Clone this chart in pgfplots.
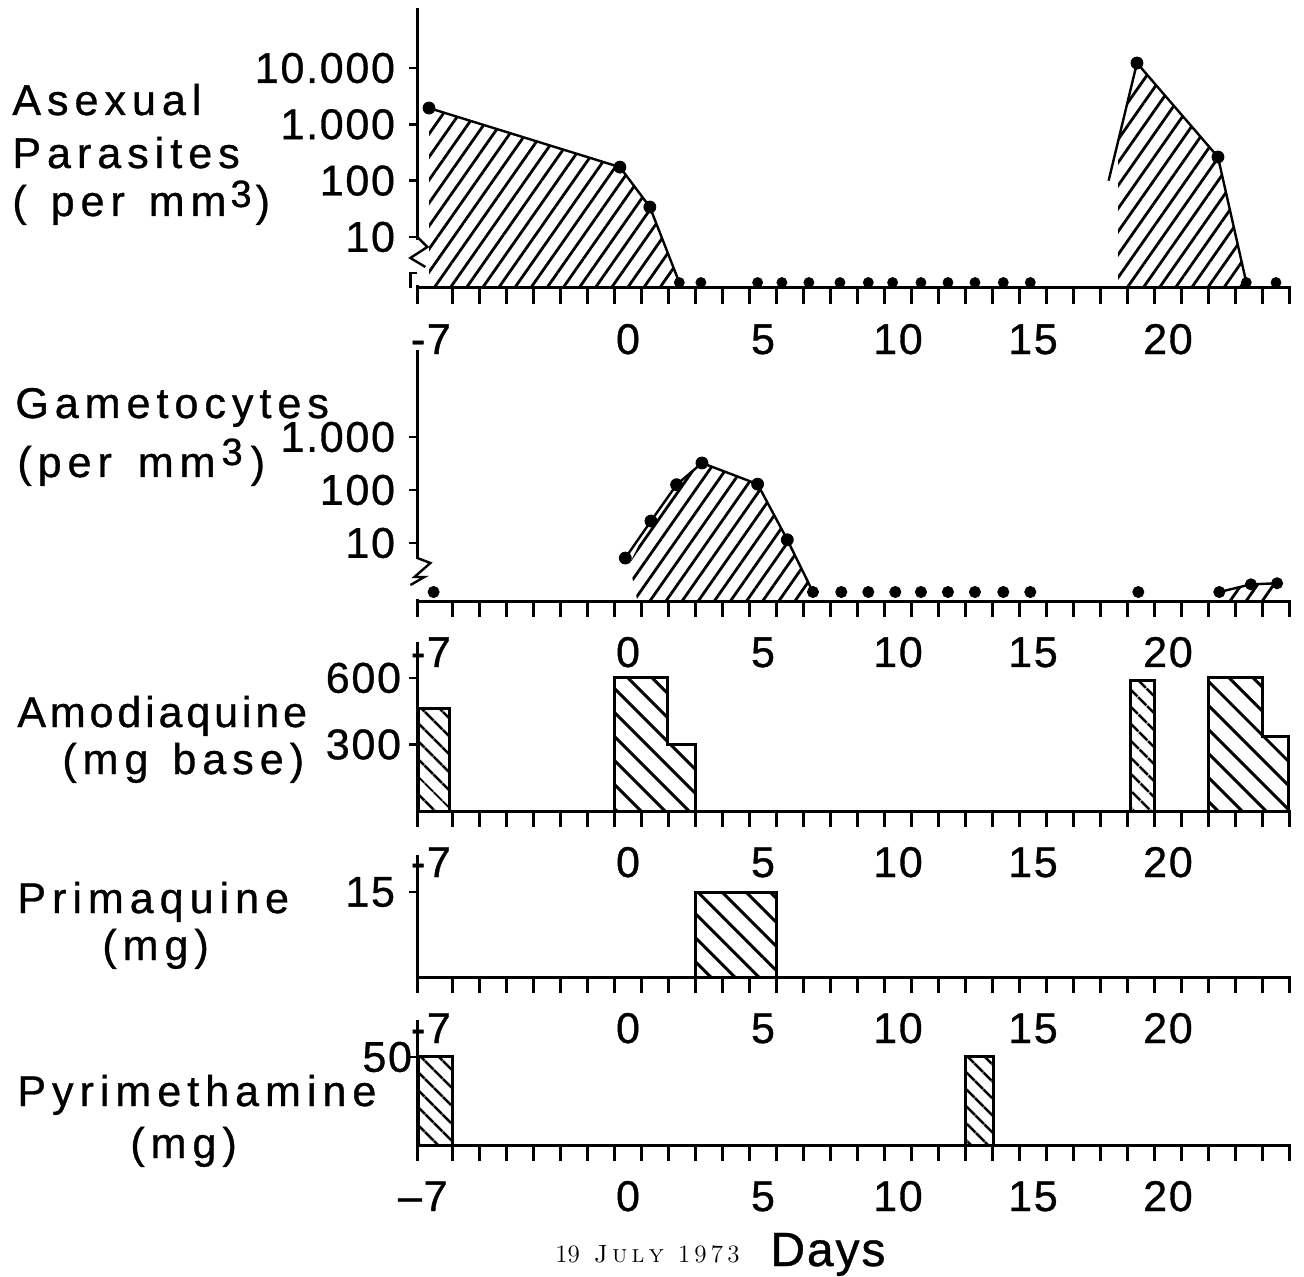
\documentclass[border=0pt]{standalone}
\usepackage{fontspec}
\usepackage{pgfplots}
\pgfplotsset{compat=1.18}
\usetikzlibrary{patterns.meta}
\newfontfamily\lab{Liberation Sans}[LetterSpace=14,FakeBold=0.8]
\newfontfamily\labn{Liberation Sans}[LetterSpace=9,FakeBold=0.8]
\newfontfamily\num{Liberation Sans}[LetterSpace=4,FakeBold=0.8]
\newcommand{\tfont}{\lab\fontsize{21.5}{21.5}\selectfont}
\newcommand{\nfont}{\num\fontsize{21.5}{21.5}\selectfont}
\tikzset{
  hatchA/.style={pattern={Lines[angle=55,distance=6.6pt,line width=1.4pt]}},
  hatchB/.style={pattern={Lines[angle=-45,distance=8.5pt,line width=1.5pt]}},
  hatchC/.style={pattern={Lines[angle=-45,distance=6.5pt,line width=1.5pt]}},
}
\pgfplotsset{
  panel/.style={
    scale only axis, width=436.725pt,
    xmin=-7.8, xmax=24.55,
    axis x line*=bottom, axis y line*=left,
    axis line style={line width=1.5pt, black},
    tick style={line width=1.2pt, black},
    tick align=outside,
    major tick length=4pt,
    minor tick length=8pt,
    major x tick style={draw=none},
    minor xtick={-7.8,-6.5,-5.5,-4.5,-3.5,-2.5,-1.5,-0.5,0.5,1.5,2.5,3.5,4.5,5.5,6.5,7.5,8.5,9.5,10.5,11.5,12.5,13.5,14.5,15.5,16.5,17.5,18.5,19.5,20.5,21.5,22.5,23.5,24.5},
    xtick={-7.3,0,5,10,15,20},
    xticklabels={-7,0,5,10,15,20},
    xticklabel style={font=\nfont, anchor=base, inner sep=0pt},
    xticklabel shift=29pt,
    yticklabel style={font=\nfont, anchor=east, inner sep=0pt},
    yticklabel shift=7pt,
    yminorticks=false,
    clip=false,
    anchor=south west,
  },
  dline/.style={line width=1.2pt, black},
  bigdot/.style={only marks, mark=*, mark size=3pt, black},
  smalldot/.style={only marks, mark=*, mark size=2.5pt, black},
  bar/.style={draw=black, line width=1.5pt},
}
\begin{document}
\begin{tikzpicture}
\useasboundingbox (0,0) rectangle (652pt,638pt);

% ---------- Panel 1: Asexual parasites ----------
\begin{axis}[panel, at={(208.7pt,494pt)}, height=140pt,
  ymode=log, ymin=1.24, ymax=116700,
  ytick={10,100,1000,10000}, yticklabels={10,100,1.000,10.000}]
\addplot[draw=none, hatchA] coordinates {(-7.37,1.24) (-7.37,1950) (-0.3,174) (0.81,34) (1.9,1.55) (1.9,1.24)} -- cycle;
\addplot[draw=none, hatchA] coordinates {(18.15,1.24) (18.15,500) (18.85,12300) (21.85,263) (22.9,1.55) (22.9,1.24)} -- cycle;
\addplot[dline] coordinates {(-7.37,1950) (-0.3,174) (0.81,34) (1.9,1.55)};
\addplot[dline] coordinates {(17.8,100) (18.85,12300) (21.85,263) (22.9,1.55)};
\addplot[bigdot] coordinates {(-7.37,1950) (-0.3,174) (0.81,34) (18.85,12300) (21.85,263)};
\addplot[smalldot] coordinates {(1.9,1.55) (2.7,1.55) (4.8,1.55) (5.7,1.55) (6.7,1.55) (7.85,1.55) (8.9,1.55) (9.8,1.55) (10.85,1.55) (11.85,1.55) (12.85,1.55) (13.9,1.55) (14.9,1.55) (22.9,1.55) (24.0,1.55)};
% axis break mark
\draw[white, line width=3pt] ([yshift=-1.5pt]axis cs:-7.8,10) -- ([yshift=-24pt]axis cs:-7.8,10);
\draw[line width=1.2pt] (axis cs:-7.8,10) -- ([xshift=5pt,yshift=-5pt]axis cs:-7.8,10) -- ([xshift=-3.5pt,yshift=-10.5pt]axis cs:-7.8,10) -- ([xshift=4pt,yshift=-15pt]axis cs:-7.8,10);
\draw[line width=1.2pt] ([yshift=-18pt]axis cs:-7.8,10) -- ([xshift=-3.5pt,yshift=-18pt]axis cs:-7.8,10) -- ([xshift=-3.5pt,yshift=-25.5pt]axis cs:-7.8,10);
\end{axis}

% ---------- Panel 2: Gametocytes ----------
\begin{axis}[panel, at={(208.7pt,337.5pt)}, height=125.5pt,
  ymode=log, ymin=0.805, ymax=43850,
  ytick={10,100,1000}, yticklabels={10,100,1.000}]
\addplot[draw=none, hatchA] coordinates {(0.35,0.805) (0.05,4) (0.85,26) (1.8,126) (2.74,324) (4.8,129) (5.9,11.5) (6.85,1.19) (6.6,0.805)} -- cycle;
\addplot[draw=none, hatchA] coordinates {(21.9,0.805) (21.9,1.19) (23.07,1.66) (24.04,1.74) (24.04,0.805)} -- cycle;
\addplot[dline] coordinates {(-0.1,5.2) (0.85,26) (1.8,126) (2.74,324) (4.8,129) (5.9,11.5) (6.85,1.19)};
\addplot[dline] coordinates {(21.9,1.19) (23.07,1.66) (24.04,1.74)};
\addplot[bigdot] coordinates {(-0.1,5.2) (0.85,26) (1.8,126) (2.74,324) (4.8,129) (5.9,11.5)};
\addplot[smalldot, mark size=2.8pt] coordinates {(-7.2,1.19) (6.85,1.19) (7.9,1.19) (8.9,1.19) (9.9,1.19) (10.85,1.19) (11.85,1.19) (12.85,1.19) (13.9,1.19) (14.9,1.19) (18.9,1.19) (21.9,1.19) (23.07,1.66) (24.04,1.74)};
\draw[white, line width=3pt] ([yshift=-8pt]axis cs:-7.8,10) -- ([yshift=-28pt]axis cs:-7.8,10);
\draw[line width=1.2pt] ([yshift=-7.5pt]axis cs:-7.8,10) -- ([xshift=6.5pt,yshift=-10pt]axis cs:-7.8,10) -- ([xshift=-1.5pt,yshift=-17pt]axis cs:-7.8,10) -- ([xshift=3.5pt,yshift=-17pt]axis cs:-7.8,10) -- ([xshift=-3.5pt,yshift=-21pt]axis cs:-7.8,10);
\end{axis}

% ---------- Panel 3: Amodiaquine ----------
\begin{axis}[panel, at={(208.7pt,232.5pt)}, height=84.5pt,
  ymin=0, ymax=762, ytick={300,600}, yticklabels={300,600}, yticklabel shift=4pt]
\addplot[bar, hatchC] coordinates {(-7.75,0) (-7.75,460) (-6.6,460) (-6.6,0)} -- cycle;
\addplot[bar, hatchB] coordinates {(-0.5,0) (-0.5,600) (1.45,600) (1.45,300) (2.5,300) (2.5,0)} -- cycle;
\addplot[bar, hatchC] coordinates {(18.6,0) (18.6,590) (19.5,590) (19.5,0)} -- cycle;
\addplot[bar, hatchB] coordinates {(21.5,0) (21.5,600) (23.5,600) (23.5,335) (24.45,335) (24.45,0)} -- cycle;
\end{axis}

% ---------- Panel 4: Primaquine ----------
\begin{axis}[panel, at={(208.7pt,149.5pt)}, height=61pt,
  ymin=0, ymax=21.53, ytick={15}, yticklabels={15}]
\addplot[bar, hatchB] coordinates {(2.5,0) (2.5,15) (5.5,15) (5.5,0)} -- cycle;
\end{axis}

% ---------- Panel 5: Pyrimethamine ----------
\begin{axis}[panel, at={(208.7pt,65.5pt)}, height=62.5pt,
  ymin=0, ymax=71, ytick={50}, yticklabels={50}, yticklabel shift=-1.5pt,
  xtick={-7.6,0,5,10,15,20}, xticklabels={–7,0,5,10,15,20}]
\addplot[bar, hatchC] coordinates {(-7.75,0) (-7.75,50) (-6.5,50) (-6.5,0)} -- cycle;
\addplot[bar, hatchC] coordinates {(12.5,0) (12.5,50) (13.55,50) (13.55,0)} -- cycle;
\end{axis}

% ---------- Titles ----------
\begin{scope}[every node/.style={anchor=base west, inner sep=0pt, font=\tfont}]
\node at (6pt,580.5pt) {Asexual};
\node at (6pt,554pt) {Parasites\hspace{4pt}};
\node at (6pt,530pt) {(\hspace{3pt} per\hspace{3pt} mm\hspace{2pt}\raisebox{4.5pt}{\fontsize{19}{19}\selectfont 3}\hspace{2pt})};
\node at (7.5pt,429pt) {Gametocytes};
\node at (8.5pt,399.5pt) {(per\hspace{4pt} mm\hspace{3pt}\raisebox{6pt}{\fontsize{19}{19}\selectfont 3}\hspace{4pt})};
\node[font=\labn\fontsize{21.5}{21.5}\selectfont] at (8.5pt,274.5pt) {Amodiaquine};
\node at (31pt,251pt) {(mg\hspace{3pt} base)};
\node at (8.5pt,181.5pt) {Primaquine};
\node at (51pt,158pt) {(mg)};
\node at (8.5pt,85pt) {Pyrimethamine};
\node at (65pt,59pt) {(mg)};
\end{scope}
\node[anchor=base west, inner sep=0pt, font=\rmfamily\fontsize{12.5}{12.5}\selectfont] at (277.5pt,7pt) {19\hspace{7pt}\textsc{J\,u\,l\,y}\hspace{7pt}1\,9\,7\,3};
\node[anchor=base west, inner sep=0pt, font=\num\fontsize{24}{24}\selectfont] at (385pt,5pt) {Days};
\end{tikzpicture}
\end{document}
